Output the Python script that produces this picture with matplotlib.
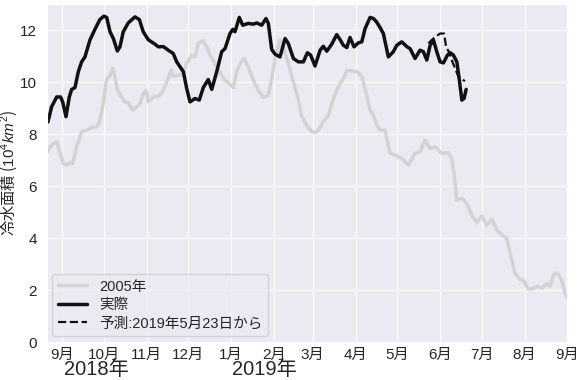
import matplotlib
matplotlib.use("Agg")
import matplotlib.pyplot as plt
import seaborn as sns
import pandas as pd
import numpy as np

# ---- data: day offsets from 2018-09-01, values in 10^4 km^2 ----
base_date = "2018-09-01"

days_2005 = [-11.3, -7.7, -4.0, -2.2, 0.7, 3.2, 5.6, 7.5, 10.4, 14.0, 17.6, 20.0, 22.4, 25.3,
             27.2, 29.6, 32.1, 34.5, 36.4, 38.1, 39.8, 42.9, 45.3, 47.7, 50.9, 53.8, 56.2,
             58.5, 60.5, 62.2, 65.8, 69.4, 71.8, 75.5, 78.6, 80.2, 83.8, 87.0, 89.9, 93.5,
             95.9, 98.3, 101.5, 104.4, 106.8, 111.6, 114.5, 116.9, 120.0, 123.6, 126.0,
             128.9, 131.3, 134.4, 138.0, 141.7, 145.3, 148.9, 151.3, 153.7, 157.3, 159.7,
             163.3, 167.0, 170.6, 173.0, 176.6, 180.3, 182.6, 185.0, 188.6, 192.3, 194.7,
             198.3, 200.7, 203.1, 205.6, 209.2, 212.8, 216.4, 218.8, 222.4, 224.8, 227.2,
             229.6, 233.2, 236.8, 240.5, 245.3, 250.1, 254.9, 258.5, 262.1, 265.8, 269.4,
             274.2, 279.0, 281.4, 283.1, 285.1, 288.7, 292.3, 295.9, 299.5, 303.1, 306.7,
             310.4, 314.0, 317.6, 321.2, 323.6, 327.2, 330.8, 333.2, 336.8, 340.4, 344.0,
             346.5, 350.1, 352.5, 354.9, 357.3, 360.9, 363.3, 365.5]
vals_2005 = [7.26, 7.58, 7.70, 7.38, 6.87, 6.81, 6.90, 6.87, 7.51, 8.09, 8.15, 8.22, 8.28, 8.28,
             8.54, 9.18, 10.14, 10.23, 10.53, 10.20, 9.69, 9.43, 9.24, 9.21, 8.92, 9.05, 9.18,
             9.56, 9.67, 9.24, 9.43, 9.46, 9.56, 10.01, 10.46, 10.23, 10.27, 10.27, 10.72, 11.04,
             10.97, 11.49, 11.59, 11.36, 11.04, 10.59, 10.33, 10.10, 9.97, 9.79, 10.40,
             10.75, 10.91, 10.59, 10.08, 9.69, 9.41, 9.50, 10.14, 10.91, 11.62, 11.36,
             10.72, 10.01, 9.31, 8.67, 8.35, 8.09, 8.05, 8.15, 8.47, 8.73, 9.18,
             9.69, 9.95, 10.14, 10.44, 10.44, 10.40, 10.21, 9.76, 8.92, 8.73, 8.35,
             8.15, 8.15, 7.26, 7.19, 7.06, 6.81, 7.26, 7.32, 7.77, 7.45, 7.51,
             7.26, 7.28, 7.06, 6.49, 5.46, 5.53, 5.33, 4.88, 4.59, 4.85, 4.50,
             4.72, 4.31, 4.12, 3.99, 3.41, 2.64, 2.41, 2.38, 2.03, 2.06, 2.15,
             2.06, 2.26, 2.13, 2.58, 2.67, 2.38, 1.87, 1.68]

days_actual = [-11.3, -10.3, -7.7, -4.0, -1.2, 0.3, 2.7, 5.1, 6.8, 9.2, 11.6, 14.0, 16.4, 20.0,
               23.6, 27.2, 30.1, 32.1, 34.5, 36.9, 39.8, 41.7, 44.1, 47.7, 52.5, 55.7, 58.5,
               62.2, 67.0, 69.4, 73.0, 76.6, 80.2, 82.7, 87.5, 89.9, 92.3, 95.9, 99.0, 101.9,
               105.5, 108.0, 111.6, 115.2, 117.6, 121.2, 123.2, 124.8, 127.9, 130.4, 134.4,
               138.0, 140.5, 144.1, 147.2, 148.9, 151.3, 153.7, 157.3, 161.0, 163.3, 167.0,
               170.6, 174.2, 177.1, 179.5, 182.6, 186.3, 188.6, 191.1, 194.7, 198.3, 200.7,
               203.1, 205.6, 207.9, 210.8, 213.9, 216.4, 218.8, 222.4, 224.8, 227.2, 229.6,
               232.0, 235.6, 239.2, 241.7, 245.3, 248.9, 251.3, 254.9, 258.5, 260.9, 263.4,
               265.8, 268.2, 270.6, 273.0, 275.4, 278.3, 280.3, 282.6, 285.1, 286.9, 288.7,
               290.3, 291.8]
vals_actual = [8.54, 8.47, 9.05, 9.43, 9.43, 9.24, 8.67, 9.43, 9.72, 9.79, 10.40, 10.78, 10.97, 11.62,
               12.03, 12.41, 12.54, 12.49, 11.94, 11.68, 11.20, 11.36, 11.94, 12.28, 12.51, 12.41, 11.94,
               11.63, 11.46, 11.36, 11.37, 11.23, 11.10, 10.78, 10.40, 9.76, 9.24, 9.37, 9.31, 9.79,
               10.10, 9.72, 10.40, 11.17, 11.29, 11.87, 12.03, 11.94, 12.49, 12.19, 12.26,
               12.23, 12.28, 12.19, 12.45, 12.26, 11.26, 11.08, 10.97, 11.68, 11.49, 10.91,
               10.78, 10.78, 11.13, 11.04, 10.62, 11.23, 11.38, 11.19, 11.46, 11.83, 11.64,
               11.42, 11.33, 11.72, 11.36, 11.51, 11.55, 12.06, 12.49, 12.45, 12.31, 12.10,
               11.87, 10.97, 11.17, 11.42, 11.55, 11.37, 11.29, 10.91, 11.23, 11.17, 10.85,
               11.42, 11.62, 11.17, 10.78, 10.74, 11.04, 11.13, 11.04, 10.78, 10.08, 9.31,
               9.37, 9.72]

days_forecast = [264.5, 266.5, 269.4, 273.0, 275.9, 277.3, 279.7, 281.4, 283.8, 286.2, 288.9, 291.0]
vals_forecast = [11.49, 11.60, 11.74, 11.87, 11.87, 11.36, 11.13, 10.85, 10.53, 10.21, 10.10, 10.04]

month_ticks = pd.date_range("2018-09-01", "2019-09-01", freq="MS")
month_labels = [f"{m.month}月" for m in month_ticks]
year_labels = ["2018年", "2019年"]
year_label_dates = ["2018-09-26", "2019-01-25"]

legend_labels = ["2005年", "実際", "予測:2019年5月23日から"]
ylabel = "冷水面積 ($10^4 km^2$)"


def to_dates(d):
    return pd.Timestamp(base_date) + pd.to_timedelta(np.asarray(d), unit="D")


sns.set_style("darkgrid")
plt.rcParams["font.family"] = ["Liberation Sans", "Noto Sans CJK JP", "DejaVu Sans"]
plt.rcParams["mathtext.fontset"] = "custom"
plt.rcParams["mathtext.rm"] = "Liberation Sans"
plt.rcParams["mathtext.it"] = "Liberation Sans:italic"

fig = plt.figure(figsize=(5.82, 3.80), dpi=100)
ax = fig.add_axes([0.080, 0.100, 0.895, 0.889])

ax.plot(to_dates(days_2005), vals_2005, color="#d3d3d3", lw=2.5, label=legend_labels[0])
ax.plot(to_dates(days_actual), vals_actual, color="#111111", lw=2.5, label=legend_labels[1])
ax.plot(to_dates(days_forecast), vals_forecast, color="#111111", lw=1.6, ls="--",
        label=legend_labels[2])

ax.set_xlim(pd.Timestamp("2018-08-20 16:00"), pd.Timestamp("2019-09-01"))
ax.set_ylim(0, 13)
ax.set_yticks(range(0, 13, 2))
ax.set_xticks(month_ticks)
ax.set_xticklabels(month_labels)
ax.tick_params(axis="both", labelsize=11, colors="#262626")
ax.tick_params(axis="x", pad=1)
ax.set_ylabel(ylabel, fontsize=11, color="#262626", family=["Noto Sans CJK JP"])
ax.yaxis.set_label_coords(-0.053, 0.5)

for lab, d in zip(year_labels, year_label_dates):
    ax.text(pd.Timestamp(d), -0.080, lab, transform=ax.get_xaxis_transform(),
            ha="center", va="center", fontsize=14.5, color="#262626")

leg = ax.legend(loc="lower left", fontsize=10.5, frameon=True, borderaxespad=0.4,
                labelspacing=0.3, handlelength=2.0)
leg.get_frame().set_facecolor("#eaeaf2")
leg.get_frame().set_edgecolor("#cccccc")

fig.savefig("out.png", dpi=100)
